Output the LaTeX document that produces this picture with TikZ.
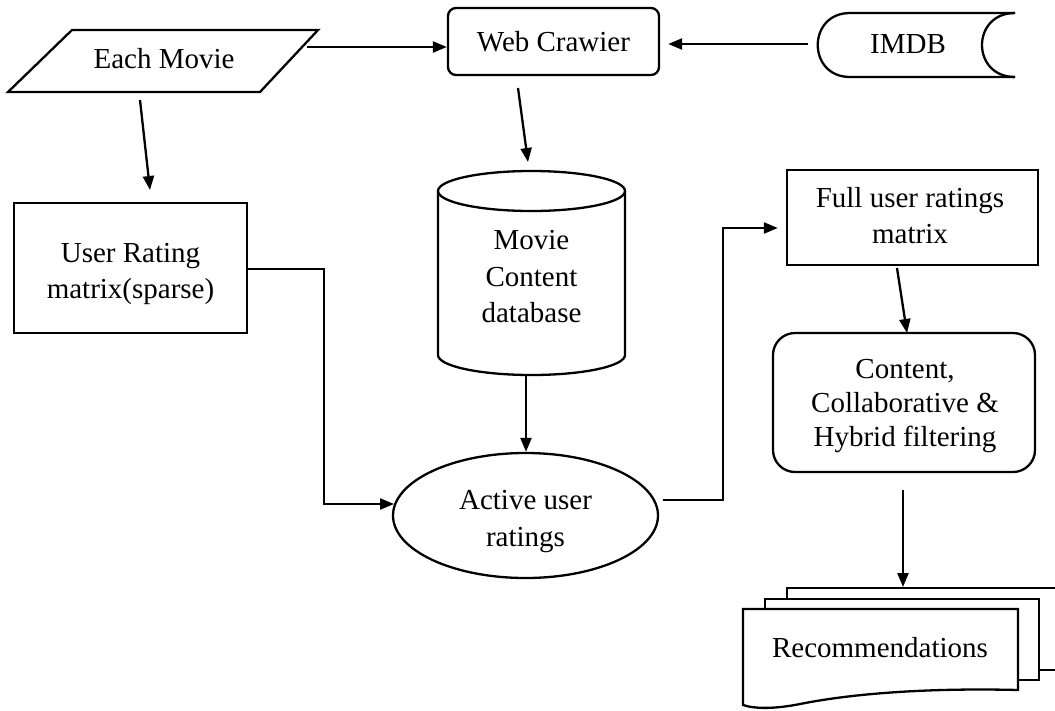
\documentclass[tikz,border=0pt]{standalone}
\usepackage{fontspec}
\setmainfont{Liberation Serif}
\usetikzlibrary{shapes.geometric,arrows.meta,calc}
\begin{document}
\begin{tikzpicture}[x=1pt,y=-1pt, line width=2.3pt,
  arr/.style={-{Triangle[length=14pt,width=11pt]}, line width=2.3pt},
  txt/.style={font=\fontsize{29}{36.5}\selectfont, align=center, inner sep=0pt},
  box/.style={draw, rectangle}]
\useasboundingbox (0,0) rectangle (1055,710);
\fill[white] (0,0) rectangle (1055,710);
\clip (0,0) rectangle (1055,710);

% Each Movie (data)
\draw (72,30) -- (318,30) -- (260,92) -- (8,92) -- cycle;
\node[txt] (em) at (164,59) {Each Movie};

% Web Crawier
\node[box, txt, rounded corners=8pt, minimum width=211pt, minimum height=67pt] (wc) at (553.5,41.5) {Web Crawier};

% IMDB (stored data)
\draw (1015,13) -- (850,13) .. controls (807,13) and (807,77) .. (850,77) -- (1015,77);
\draw (1015,13) .. controls (971,13) and (971,77) .. (1015,77);
\node[txt] (imdb) at (908,44) {IMDB};

% Cylinder
\draw (438,191) -- (438,355) arc[start angle=180, end angle=360, x radius=93.5pt, y radius=20pt] -- (625,191);
\draw (531.5,191) ellipse [x radius=93.5pt, y radius=20pt];
\node[txt] (db) at (531.5,277) {Movie\\Content\\database};

% Ellipse
\node[draw, ellipse, minimum width=265pt, minimum height=125pt] (ell) at (525.5,515.5) {};
\node[txt] (ellt) at (525.5,521.5) {Active user\\ratings};

% Boxes
\node[box, minimum width=233pt, minimum height=130pt] (ur) at (130.5,268) {};
\node[txt] (urt) at (130.5,274) {User Rating\\matrix(sparse)};
\node[box, minimum width=251pt, minimum height=95pt] (fur) at (912.5,217.5) {};
\node[txt] (furt) at (910,215.5) {Full user ratings\\matrix};
\node[box, rounded corners=22pt, minimum width=262pt, minimum height=139pt] (cf) at (904,402.5) {};
\node[txt, font=\fontsize{29}{34}\selectfont] (cft) at (905,406) {Content,\\Collaborative \&\\Hybrid filtering};

% Multi-document
\draw[fill=white] (787,670) -- (787,588) -- (1080,588) -- (1080,670) -- cycle;
\draw[fill=white] (765,599) rectangle (1039,680);
\draw[fill=white] (743,609) -- (1018,609) -- (1018,690) .. controls (940,688) and (860,692) .. (800,704) .. controls (775,709) and (755,709) .. (743,705) -- cycle;
\node[txt] (rec) at (880,648) {Recommendations};

% Connectors
\coordinate (em-e) at (307,47);
\draw[arr] (em-e) -- (em-e -| wc.west);
\coordinate (imdb-w) at (808,44);
\draw[arr, shorten >=8pt] (imdb-w) -- (imdb-w -| wc.east);
\coordinate (em-s) at (140,100);
\coordinate (ur-n) at (150,190);
\draw[arr] (em-s) -- (ur-n);
\coordinate (wc-s) at (518,88);
\coordinate (db-n) at (528,162);
\draw[arr] (wc-s) -- (db-n);
\coordinate (db-s) at (526,374);
\draw[arr] (db-s) -- (db-s |- ell.north);
\coordinate (ur-e) at (247,269);
\coordinate (j1) at (324,400);
\draw[arr] (ur-e) -| (j1) |- (ell.175);
\coordinate (ell-e) at (663,500);
\coordinate (j2) at (723,300);
\draw[arr, shorten >=8pt] (ell-e) -| (j2) |- ([yshift=-10.5pt]fur.west);
\coordinate (fur-s) at (897,268);
\coordinate (cf-n) at (907,333);
\draw[arr] (fur-s) -- (cf-n);
\coordinate (cf-s) at (903,490);
\coordinate (rec-n) at (903,587);
\draw[arr] (cf-s) -- (rec-n);
\end{tikzpicture}
\end{document}
